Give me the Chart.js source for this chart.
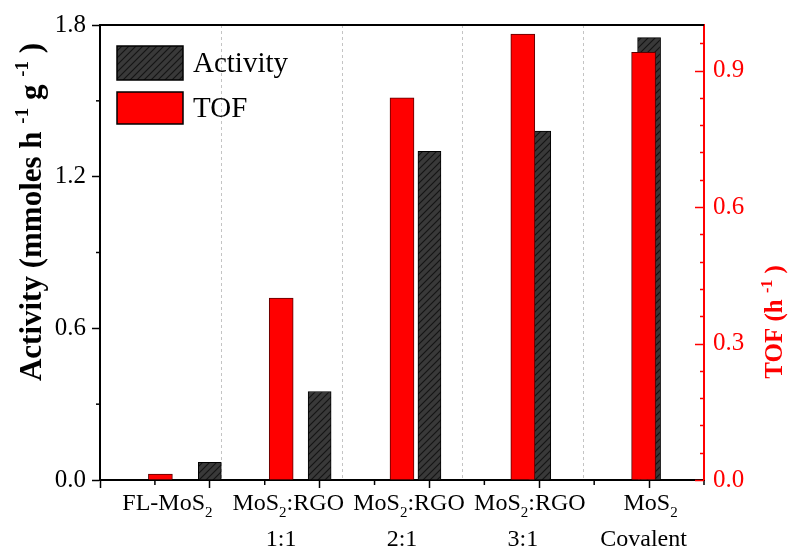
<!DOCTYPE html>
<html lang="en">
<head>
    <meta charset="UTF-8">
    <title>Activity and TOF</title>
    <style>
        body {
            margin: 0;
            background: #fff;
        }
        .wrap {
            width: 789px;
            height: 555px;
        }
    </style>
    <script src="https://cdn.jsdelivr.net/npm/chart.js"></script>
</head>
<body>
    <div class="wrap"><canvas id="chart"></canvas></div>

    <script>
        // Samples, two text lines each; _{..} = subscript, ^{..} = superscript
        const categories = [
            ['FL-MoS_{2}'],
            ['MoS_{2}:RGO', '1:1'],
            ['MoS_{2}:RGO', '2:1'],
            ['MoS_{2}:RGO', '3:1'],
            ['MoS_{2}', 'Covalent']
        ];

        // Activity (left axis), plotted at even x positions
        const activityX = [2, 4, 6, 8, 10];
        const activity = [0.07, 0.35, 1.30, 1.38, 1.75];

        // TOF (right axis), plotted at the middle of each sample band
        const tofX = [1.1, 3.3, 5.5, 7.7, 9.9];
        const tof = [0.013, 0.40, 0.84, 0.98, 0.94];

        const xTicks = [0, 2, 4, 6, 8, 10];
        const activityTicks = [0, 0.6, 1.2, 1.8];
        const tofTicks = [0, 0.3, 0.6, 0.9];

        const serif = '"Liberation Serif", "Times New Roman", serif';
        const RED = '#ff0000';

        // hatched dark fill for the activity bars
        const hatch = document.createElement('canvas');
        hatch.width = hatch.height = 7;
        const hc = hatch.getContext('2d');
        hc.fillStyle = '#393939';
        hc.fillRect(0, 0, 7, 7);
        hc.strokeStyle = '#141414';
        hc.lineWidth = 1.1;
        hc.beginPath();
        hc.moveTo(0, 7); hc.lineTo(7, 0);
        hc.moveTo(-1, 1); hc.lineTo(1, -1);
        hc.moveTo(6, 8); hc.lineTo(8, 6);
        hc.stroke();
        const hatchFill = hc.createPattern(hatch, 'repeat');

        // --- small rich text helper (sub/superscripts) ---
        function parseRich(str) {
            const parts = [];
            const re = /([_^])\{([^}]*)\}/g;
            let last = 0, m;
            while ((m = re.exec(str))) {
                if (m.index > last) parts.push({ t: str.slice(last, m.index), k: '' });
                parts.push({ t: m[2], k: m[1] });
                last = re.lastIndex;
            }
            if (last < str.length) parts.push({ t: str.slice(last), k: '' });
            return parts;
        }

        function fontFor(part, size, weight) {
            const s = part.k ? Math.round(size * 0.62) : size;
            return `${weight} ${s}px ${serif}`;
        }

        function richWidth(ctx, str, size, weight) {
            let w = 0;
            for (const p of parseRich(str)) {
                ctx.font = fontFor(p, size, weight);
                w += ctx.measureText(p.t).width;
            }
            return w;
        }

        // draws on the baseline y, horizontally centred on x
        function drawRich(ctx, str, x, y, size, weight) {
            let cx = x - richWidth(ctx, str, size, weight) / 2;
            ctx.textAlign = 'left';
            ctx.textBaseline = 'alphabetic';
            for (const p of parseRich(str)) {
                ctx.font = fontFor(p, size, weight);
                let dy = 0;
                if (p.k === '_') dy = size * 0.28;
                if (p.k === '^') dy = -size * 0.42;
                ctx.fillText(p.t, cx, y + dy);
                cx += ctx.measureText(p.t).width;
            }
        }

        const decorations = {
            id: 'decorations',
            beforeDatasetsDraw(chart) {
                const { ctx, chartArea: a, scales: { x } } = chart;
                // dashed separators between the samples
                const band = (x.max - x.min) / categories.length;
                ctx.save();
                ctx.strokeStyle = '#c4c4c4';
                ctx.lineWidth = 1;
                ctx.setLineDash([3, 3]);
                for (let i = 1; i < categories.length; i++) {
                    const px = Math.round(x.getPixelForValue(x.min + band * i)) + 0.5;
                    ctx.beginPath();
                    ctx.moveTo(px, a.top);
                    ctx.lineTo(px, a.bottom);
                    ctx.stroke();
                }
                ctx.restore();
            },
            afterDraw(chart) {
                const { ctx, chartArea: a, scales: { x, y, y2 } } = chart;
                ctx.save();

                // top frame
                ctx.strokeStyle = '#000';
                ctx.lineWidth = 2;
                ctx.beginPath();
                ctx.moveTo(a.left - 1, a.top);
                ctx.lineTo(a.right, a.top);
                ctx.stroke();

                // minor ticks on x and left y
                ctx.lineWidth = 1.5;
                for (let v = 1; v <= x.max; v += 2) {
                    const px = x.getPixelForValue(v);
                    ctx.beginPath();
                    ctx.moveTo(px, a.bottom);
                    ctx.lineTo(px, a.bottom + 5);
                    ctx.stroke();
                }
                for (let i = 0; i < activityTicks.length - 1; i++) {
                    const py = y.getPixelForValue((activityTicks[i] + activityTicks[i + 1]) / 2);
                    ctx.beginPath();
                    ctx.moveTo(a.left - 4, py);
                    ctx.lineTo(a.left, py);
                    ctx.stroke();
                }

                // right axis ticks point inwards
                ctx.strokeStyle = RED;
                for (let k = 0; k <= 16; k++) {
                    const v = k * 0.06;
                    const major = k % 5 === 0;
                    const py = Math.round(y2.getPixelForValue(v)) + 0.5;
                    ctx.beginPath();
                    ctx.moveTo(a.right, py);
                    ctx.lineTo(a.right - (major ? 9 : 4), py);
                    ctx.stroke();
                }

                // legend
                const lx = a.left + 17;
                ctx.lineWidth = 1.5;
                ctx.strokeStyle = '#000';
                ctx.fillStyle = hatchFill;
                ctx.fillRect(lx, a.top + 21, 66, 34);
                ctx.strokeRect(lx, a.top + 21, 66, 34);
                ctx.fillStyle = RED;
                ctx.fillRect(lx, a.top + 67, 66, 32);
                ctx.strokeRect(lx, a.top + 67, 66, 32);
                ctx.fillStyle = '#000';
                ctx.font = `29px ${serif}`;
                ctx.textAlign = 'left';
                ctx.textBaseline = 'middle';
                ctx.fillText('Activity', lx + 76, a.top + 39);
                ctx.fillText('TOF', lx + 76, a.top + 84);

                // sample names under the axis (first line sits a little right)
                const band = (x.max - x.min) / categories.length;
                categories.forEach((lines, i) => {
                    const cx = x.getPixelForValue(x.min + band * (i + 0.5));
                    lines.forEach((line, j) => {
                        drawRich(ctx, line, cx + (j === 0 ? 7 : 0), a.bottom + 30 + j * 36, 24, 'normal');
                    });
                });

                // axis titles
                ctx.save();
                ctx.translate(41, 212);
                ctx.rotate(-Math.PI / 2);
                ctx.fillStyle = '#000';
                drawRich(ctx, 'Activity (mmoles h ^{-1} g ^{-1} )', 0, 0, 31, 'bold');
                ctx.restore();

                ctx.save();
                ctx.translate(782, 322);
                ctx.rotate(-Math.PI / 2);
                ctx.fillStyle = RED;
                drawRich(ctx, 'TOF (h ^{-1} )', 0, 0, 25, 'bold');
                ctx.restore();

                ctx.restore();
            }
        };

        new Chart(document.getElementById('chart'), {
            type: 'bar',
            data: {
                datasets: [
                    {
                        label: 'TOF',
                        data: tofX.map((v, i) => ({ x: v, y: tof[i] })),
                        yAxisID: 'y2',
                        stack: 'one',
                        backgroundColor: RED,
                        borderColor: '#5a0000',
                        borderWidth: 1,
                        barThickness: 24
                    },
                    {
                        label: 'Activity',
                        data: activityX.map((v, i) => ({ x: v, y: activity[i] })),
                        yAxisID: 'y',
                        stack: 'one',
                        backgroundColor: hatchFill,
                        borderColor: '#000',
                        borderWidth: 1,
                        barThickness: 23
                    }
                ]
            },
            options: {
                responsive: true,
                maintainAspectRatio: false,
                animation: false,
                devicePixelRatio: 1,
                layout: { padding: { top: 25, left: 0, right: 0, bottom: 0 } },
                plugins: {
                    legend: { display: false },
                    tooltip: { enabled: false }
                },
                scales: {
                    x: {
                        type: 'linear',
                        min: 0,
                        max: 11,
                        offset: false,
                        afterBuildTicks: s => { s.ticks = xTicks.map(v => ({ value: v })); },
                        ticks: { display: false },
                        grid: { offset: false, drawOnChartArea: false, tickLength: 8, tickColor: '#000', tickWidth: 1.5 },
                        border: { color: '#000', width: 2 },
                        afterFit: s => { s.height = 75; }
                    },
                    y: {
                        position: 'left',
                        min: 0,
                        max: 1.8,
                        stacked: false,
                        afterBuildTicks: s => { s.ticks = activityTicks.map(v => ({ value: v })); },
                        ticks: {
                            color: '#000',
                            padding: 6,
                            font: { family: serif, size: 25 },
                            callback: v => v.toFixed(1)
                        },
                        grid: { drawOnChartArea: false, tickLength: 8, tickColor: '#000', tickWidth: 1.5 },
                        border: { color: '#000', width: 2 },
                        afterFit: s => { s.width = 100; }
                    },
                    y2: {
                        position: 'right',
                        min: 0,
                        max: 1.0,
                        stacked: false,
                        afterBuildTicks: s => { s.ticks = tofTicks.map(v => ({ value: v })); },
                        ticks: {
                            color: RED,
                            padding: 9,
                            font: { family: serif, size: 25 },
                            callback: v => v.toFixed(1)
                        },
                        grid: { drawOnChartArea: false, drawTicks: false },
                        border: { color: RED, width: 2 },
                        afterFit: s => { s.width = 85; }
                    }
                }
            },
            plugins: [decorations]
        });
    </script>
</body>
</html>
